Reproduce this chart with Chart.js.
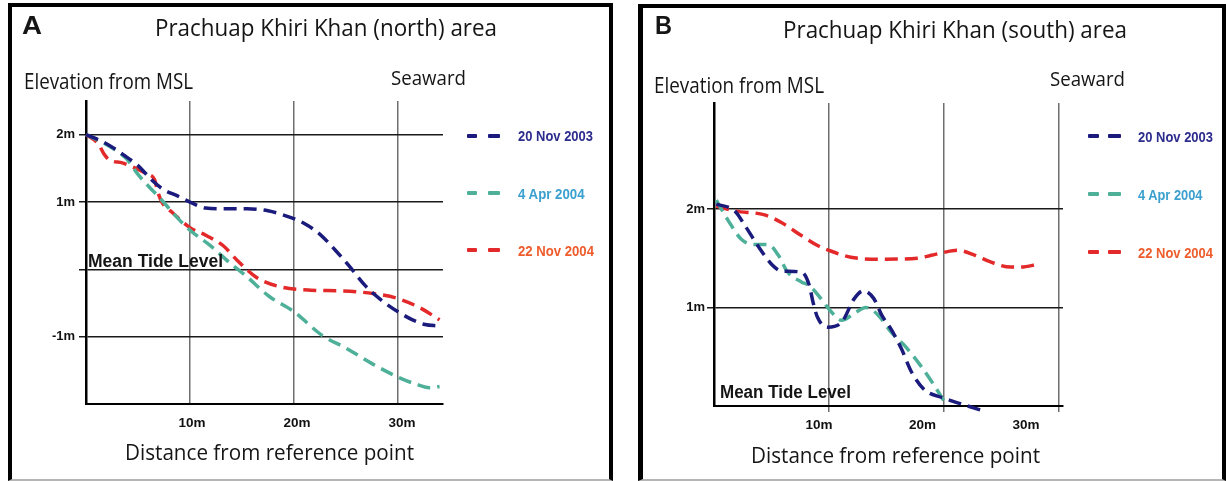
<!DOCTYPE html>
<html><head><meta charset="utf-8">
<script src="https://cdn.jsdelivr.net/npm/chart.js@4.4.1/dist/chart.umd.min.js"></script>
<style>
html,body{margin:0;padding:0;background:#fff;}
#stage{position:relative;width:1227px;height:481px;overflow:hidden;background:#fff;}
.box{position:absolute;box-sizing:border-box;border:4px solid #000;border-bottom:2px solid #b5b5b5;}
.wrap{position:absolute;top:0;height:481px;}
.wrap canvas{position:absolute;left:0;top:0;}
.t{position:absolute;white-space:nowrap;transform-origin:0 50%;color:#151515;}
.sans{font-family:"Open Sans","Noto Sans",sans-serif;font-weight:normal;}
.bold{font-family:"Liberation Sans",Arial,sans-serif;font-weight:bold;}
.dash{position:absolute;height:4px;border-radius:1px;}
</style></head>
<body><div id="stage">
<div class="box" style="left:8px;top:3px;width:605px;height:478px"></div>
<div class="box" style="left:638px;top:4px;width:588px;height:477px;border-left-width:5px"></div>
<div class="wrap" style="left:0;width:613px"><canvas id="cA" width="613" height="481"></canvas></div>
<div class="wrap" style="left:613px;width:614px"><canvas id="cB" width="614" height="481"></canvas></div>
</div>
<script>
// ---------- data ----------
const seriesNames = ['20 Nov 2003', '4 Apr 2004', '22 Nov 2004'];
const xTicks = [10, 20, 30];
const xTickLabels = ['10m', '20m', '30m'];
const yTicksA = [-1, 0, 1, 2];
const yTickLabelsA = ['-1m', '', '1m', '2m'];
const yTicksB = [1, 2];
const yTickLabelsB = ['1m', '2m'];

// Panel A: Prachuap Khiri Khan (north)
const aNov03X = [0, 1.8, 3.7, 5.0, 6.3, 7.4, 8.8, 10.1, 11.5, 13.5, 15.5, 17.5, 19.5, 21.0, 22.5, 24.0, 25.3, 26.9, 28.5, 30.0, 31.4, 32.6, 33.9];
const aNov03Y = [2.0, 1.88, 1.69, 1.54, 1.33, 1.19, 1.09, 0.99, 0.91, 0.90, 0.90, 0.87, 0.78, 0.68, 0.52, 0.28, 0.05, -0.25, -0.47, -0.63, -0.75, -0.82, -0.84];
const aApr04X = [0, 2.0, 3.9, 5.0, 6.1, 7.1, 8.4, 10.0, 11.9, 13.8, 15.4, 17.6, 20.0, 22.7, 25.0, 27.5, 30.0, 32.0, 33.0, 34.0];
const aApr04Y = [2.0, 1.85, 1.64, 1.41, 1.22, 1.06, 0.83, 0.58, 0.36, 0.10, -0.10, -0.40, -0.63, -0.98, -1.17, -1.40, -1.60, -1.72, -1.76, -1.74];
const aNov04X = [0, 1.2, 1.7, 2.2, 3.5, 4.8, 5.8, 6.6, 6.9, 7.3, 8.4, 10.0, 11.6, 13.2, 14.5, 16.4, 18.7, 21.6, 24.6, 27.6, 29.9, 32.1, 34.0];
const aNov04Y = [2.0, 1.86, 1.72, 1.63, 1.58, 1.5, 1.42, 1.33, 1.15, 1.0, 0.83, 0.62, 0.5, 0.35, 0.14, -0.12, -0.26, -0.31, -0.32, -0.36, -0.43, -0.57, -0.75];

// Panel B: Prachuap Khiri Khan (south)
const bNov03X = [0.2, 1.8, 2.7, 3.8, 5.0, 5.9, 7.6, 8.3, 8.6, 9.0, 9.9, 11.1, 12.2, 13.0, 13.9, 14.6, 15.4, 16.3, 17.2, 18.3, 20.0, 21.8, 23.7];
const bNov03Y = [2.05, 1.98, 1.83, 1.63, 1.44, 1.37, 1.36, 1.22, 1.06, 0.90, 0.80, 0.85, 1.09, 1.17, 1.09, 0.92, 0.78, 0.58, 0.34, 0.165, 0.08, 0.01, -0.06];
const bApr04X = [0.2, 1.2, 2.4, 3.5, 4.7, 5.6, 6.4, 7.6, 8.3, 9.3, 10.1, 11.1, 12.2, 13.2, 14.3, 15.4, 16.6, 18.0, 19.2, 20.2];
const bApr04Y = [2.09, 1.89, 1.69, 1.64, 1.64, 1.53, 1.36, 1.26, 1.22, 1.09, 0.97, 0.87, 0.94, 1.0, 0.92, 0.75, 0.61, 0.405, 0.2, 0.01];
const bNov04X = [0.2, 1.8, 4.4, 5.9, 7.6, 9.0, 10.0, 11.9, 14.3, 17.7, 18.9, 20.0, 21.2, 22.7, 24.1, 25.8, 26.7, 28.2];
const bNov04Y = [2.03, 1.98, 1.94, 1.86, 1.73, 1.63, 1.58, 1.51, 1.49, 1.50, 1.53, 1.56, 1.58, 1.53, 1.46, 1.41, 1.41, 1.44];

// ---------- style ----------
const lineColors = ['#1b1b7d', '#4fb09a', '#e32929'];
const legendTextColors = ['#2b2c8c', '#3ba0cf', '#ee5c2c'];
const tickFont = '"Liberation Sans", Arial, sans-serif';

function xLabelPlugin(offsets, y) {
  return {
    id: 'xlab',
    afterDraw(chart) {
      const sc = chart.scales.x, ctx = chart.ctx;
      ctx.save();
      ctx.font = 'bold 13.5px ' + tickFont;
      ctx.fillStyle = '#111';
      ctx.textAlign = 'center';
      ctx.textBaseline = 'middle';
      xTicks.forEach((v, i) => ctx.fillText(xTickLabels[i], sc.getPixelForValue(v) + offsets[i], y));
      ctx.restore();
    }
  };
}

function makeChart(id, p) {
  return new Chart(document.getElementById(id), {
    type: 'line',
    data: {
      datasets: p.series.map((s, i) => ({
        label: seriesNames[i],
        data: s[0].map((v, j) => ({ x: v, y: s[1][j] })),
        borderColor: lineColors[i],
        backgroundColor: lineColors[i],
        borderWidth: 3.5,
        borderDash: [13, 7],
        pointRadius: 0,
        fill: false,
        cubicInterpolationMode: 'monotone',
        clip: false
      }))
    },
    options: {
      responsive: false, animation: false, events: [],
      layout: { padding: { left: 0, top: p.top, right: p.W - p.right, bottom: 0 } },
      plugins: { legend: { display: false }, tooltip: { enabled: false } },
      scales: {
        x: {
          type: 'linear', min: 0, max: p.xMax,
          afterBuildTicks: s => { s.ticks = xTicks.map(v => ({ value: v })); },
          afterFit: s => { s.height = 481 - p.bottom; },
          grid: { color: '#6e6e6e', lineWidth: 1.5, drawTicks: p.xTickLen > 0, tickLength: p.xTickLen },
          border: { display: true, color: '#000', width: 2 },
          ticks: { display: false }
        },
        y: {
          type: 'linear', min: p.yMin, max: p.yMax,
          afterBuildTicks: s => { s.ticks = p.yTicks.map(v => ({ value: v })); },
          afterFit: s => { s.width = p.left; },
          grid: { color: '#1a1a1a', lineWidth: 1.5, tickLength: 7 },
          border: { display: true, color: '#000', width: 2.5 },
          ticks: {
            padding: p.yPad, color: '#111',
            font: { family: tickFont, size: 13, weight: 'bold' },
            callback: v => p.yLabels[p.yTicks.indexOf(v)]
          }
        }
      }
    },
    plugins: [xLabelPlugin(p.xOffsets, p.xLabelY)]
  });
}

makeChart('cA', {
  series: [[aNov03X, aNov03Y], [aApr04X, aApr04Y], [aNov04X, aNov04Y]],
  W: 613, left: 86, right: 443, top: 101, bottom: 404,
  xMax: 34.33, yMin: -2, yMax: 2.5, yTicks: yTicksA, yLabels: yTickLabelsA, yPad: 4,
  xTickLen: 0, xLabelY: 423, xOffsets: [2, 3, 4]
});
makeChart('cB', {
  series: [[bNov03X, bNov03Y], [bApr04X, bApr04Y], [bNov04X, bNov04Y]],
  W: 614, left: 101, right: 450, top: 103, bottom: 406,
  xMax: 30.35, yMin: 0, yMax: 3.076, yTicks: yTicksB, yLabels: yTickLabelsB, yPad: 2,
  xTickLen: 6, xLabelY: 425, xOffsets: [-10, -21.5, -33]
});

// ---------- text & legends ----------
const stage = document.getElementById('stage');
function addText(txt, cls, fs, left, cy, w, color) {
  const d = document.createElement('div');
  d.className = 't ' + cls;
  d.textContent = txt;
  d.style.fontSize = fs + 'px';
  d.style.lineHeight = fs + 'px';
  d.style.left = left + 'px';
  d.style.top = (cy - fs / 2) + 'px';
  if (color) d.style.color = color;
  stage.appendChild(d);
  const aw = d.getBoundingClientRect().width;
  if (w && aw > 0) d.style.transform = 'scaleX(' + (w / aw) + ')';
}
const texts = [
  ['A', 'bold', 25, 22, 25.5, 20],
  ['Prachuap Khiri Khan (north) area', 'sans', 23, 155, 27.5, 342],
  ['Elevation from MSL', 'sans', 21, 24, 81.5, 169],
  ['Seaward', 'sans', 20, 391, 78, 75],
  ['Distance from reference point', 'sans', 22, 125, 451, 289],
  ['Mean Tide Level', 'bold', 18, 88, 260.5, 135],
  ['B', 'bold', 25, 655, 25, 17],
  ['Prachuap Khiri Khan (south) area', 'sans', 23, 783, 29, 344],
  ['Elevation from MSL', 'sans', 21, 654, 85.5, 170],
  ['Seaward', 'sans', 20, 1050, 79, 75],
  ['Distance from reference point', 'sans', 22, 751, 454, 289],
  ['Mean Tide Level', 'bold', 18, 720, 392, 131]
];
texts.forEach(t => addText(...t));

function addLegend(d1, w1, d2, w2, lx, ys, widths) {
  seriesNames.forEach((name, i) => {
    [[d1, w1], [d2, w2]].forEach(([x, w]) => {
      const e = document.createElement('div');
      e.className = 'dash';
      e.style.left = x + 'px'; e.style.width = w + 'px';
      e.style.top = (ys[i] - 2) + 'px';
      e.style.background = lineColors[i];
      stage.appendChild(e);
    });
    addText(name, 'bold', 15, lx, ys[i], widths[i], legendTextColors[i]);
  });
}
addLegend(467, 10, 488, 12, 518, [135.7, 193.3, 250], [75, 66.6, 76]);
addLegend(1088, 11, 1108, 13, 1138, [136, 194, 252], [75, 64.5, 75]);
</script>
</body></html>
